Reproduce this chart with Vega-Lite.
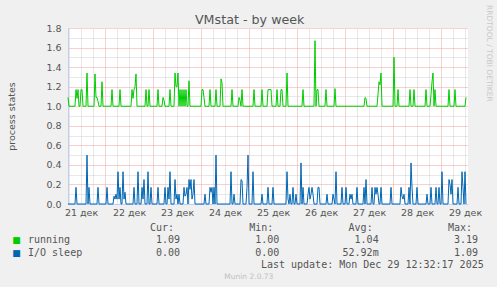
{
  "$schema": "https://vega.github.io/schema/vega-lite/v6.json",
  "background": "#F0F0F0",
  "padding": {"left": 6, "top": 5, "right": 6, "bottom": 7},
  "spacing": 6,
  "datasets": {
    "running": [
      {"t":"2025-12-21T05:30:00Z","v":1.09},{"t":"2025-12-21T06:00:00Z","v":1.0},{"t":"2025-12-21T09:00:00Z","v":1.0},{"t":"2025-12-21T09:30:00Z","v":1.17},{"t":"2025-12-21T10:00:00Z","v":1.08},{"t":"2025-12-21T10:30:00Z","v":1.17},{"t":"2025-12-21T11:00:00Z","v":1.0},{"t":"2025-12-21T11:30:00Z","v":1.0},{"t":"2025-12-21T12:00:00Z","v":1.17},{"t":"2025-12-21T12:30:00Z","v":1.17},{"t":"2025-12-21T13:00:00Z","v":1.0},{"t":"2025-12-21T14:30:00Z","v":1.0},{"t":"2025-12-21T15:00:00Z","v":1.34},{"t":"2025-12-21T15:30:00Z","v":1.0},{"t":"2025-12-21T18:30:00Z","v":1.0},{"t":"2025-12-21T19:00:00Z","v":1.33},{"t":"2025-12-21T19:30:00Z","v":1.09},{"t":"2025-12-21T20:00:00Z","v":1.09},{"t":"2025-12-21T20:30:00Z","v":1.05},{"t":"2025-12-21T21:00:00Z","v":1.0},{"t":"2025-12-21T22:00:00Z","v":1.0},{"t":"2025-12-21T22:30:00Z","v":1.25},{"t":"2025-12-21T23:00:00Z","v":1.0},
      {"t":"2025-12-22T03:00:00Z","v":1.0},{"t":"2025-12-22T03:30:00Z","v":1.17},{"t":"2025-12-22T04:00:00Z","v":1.0},{"t":"2025-12-22T07:00:00Z","v":1.0},{"t":"2025-12-22T07:30:00Z","v":1.17},{"t":"2025-12-22T08:00:00Z","v":1.0},{"t":"2025-12-22T13:00:00Z","v":1.0},{"t":"2025-12-22T13:30:00Z","v":1.17},{"t":"2025-12-22T14:00:00Z","v":1.08},{"t":"2025-12-22T14:30:00Z","v":1.17},{"t":"2025-12-22T15:00:00Z","v":1.2},{"t":"2025-12-22T15:30:00Z","v":1.33},{"t":"2025-12-22T16:00:00Z","v":1.0},{"t":"2025-12-22T20:00:00Z","v":1.0},{"t":"2025-12-22T20:30:00Z","v":1.17},{"t":"2025-12-22T21:00:00Z","v":1.0},{"t":"2025-12-22T21:30:00Z","v":1.0},{"t":"2025-12-22T22:00:00Z","v":1.17},{"t":"2025-12-22T22:30:00Z","v":1.0},
      {"t":"2025-12-23T02:00:00Z","v":1.0},{"t":"2025-12-23T02:30:00Z","v":1.17},{"t":"2025-12-23T03:00:00Z","v":1.0},{"t":"2025-12-23T04:30:00Z","v":1.0},{"t":"2025-12-23T05:00:00Z","v":1.09},{"t":"2025-12-23T05:30:00Z","v":1.06},{"t":"2025-12-23T06:00:00Z","v":1.0},{"t":"2025-12-23T08:00:00Z","v":1.0},{"t":"2025-12-23T08:30:00Z","v":1.17},{"t":"2025-12-23T09:00:00Z","v":1.0},{"t":"2025-12-23T10:30:00Z","v":1.0},{"t":"2025-12-23T11:00:00Z","v":1.34},{"t":"2025-12-23T11:30:00Z","v":1.2},{"t":"2025-12-23T12:00:00Z","v":1.2},{"t":"2025-12-23T12:30:00Z","v":1.34},{"t":"2025-12-23T13:00:00Z","v":1.0},{"t":"2025-12-23T13:30:00Z","v":1.17},{"t":"2025-12-23T14:00:00Z","v":1.0},{"t":"2025-12-23T14:30:00Z","v":1.17},{"t":"2025-12-23T15:00:00Z","v":1.0},{"t":"2025-12-23T15:30:00Z","v":1.17},{"t":"2025-12-23T16:00:00Z","v":1.0},{"t":"2025-12-23T16:30:00Z","v":1.17},{"t":"2025-12-23T17:00:00Z","v":1.0},{"t":"2025-12-23T17:30:00Z","v":1.0},{"t":"2025-12-23T18:00:00Z","v":1.26},{"t":"2025-12-23T18:30:00Z","v":1.0},
      {"t":"2025-12-24T00:00:00Z","v":1.0},{"t":"2025-12-24T00:30:00Z","v":1.17},{"t":"2025-12-24T01:00:00Z","v":1.17},{"t":"2025-12-24T01:30:00Z","v":1.09},{"t":"2025-12-24T02:00:00Z","v":1.0},{"t":"2025-12-24T04:00:00Z","v":1.0},{"t":"2025-12-24T04:30:00Z","v":1.17},{"t":"2025-12-24T05:00:00Z","v":1.0},{"t":"2025-12-24T07:00:00Z","v":1.0},{"t":"2025-12-24T07:30:00Z","v":1.17},{"t":"2025-12-24T08:00:00Z","v":1.0},{"t":"2025-12-24T09:30:00Z","v":1.0},{"t":"2025-12-24T10:00:00Z","v":1.28},{"t":"2025-12-24T10:30:00Z","v":1.24},{"t":"2025-12-24T11:00:00Z","v":1.0},{"t":"2025-12-24T15:00:00Z","v":1.0},{"t":"2025-12-24T15:30:00Z","v":1.17},{"t":"2025-12-24T16:00:00Z","v":1.0},{"t":"2025-12-24T18:30:00Z","v":1.0},{"t":"2025-12-24T19:00:00Z","v":1.09},{"t":"2025-12-24T19:30:00Z","v":1.06},{"t":"2025-12-24T20:00:00Z","v":1.0},{"t":"2025-12-24T20:30:00Z","v":1.17},{"t":"2025-12-24T21:00:00Z","v":1.0},
      {"t":"2025-12-25T02:00:00Z","v":1.0},{"t":"2025-12-25T02:30:00Z","v":1.17},{"t":"2025-12-25T03:00:00Z","v":1.0},{"t":"2025-12-25T06:00:00Z","v":1.0},{"t":"2025-12-25T06:30:00Z","v":1.17},{"t":"2025-12-25T07:00:00Z","v":1.0},{"t":"2025-12-25T09:00:00Z","v":1.0},{"t":"2025-12-25T09:30:00Z","v":1.17},{"t":"2025-12-25T11:00:00Z","v":1.17},{"t":"2025-12-25T11:30:00Z","v":1.0},{"t":"2025-12-25T13:30:00Z","v":1.0},{"t":"2025-12-25T14:00:00Z","v":1.17},{"t":"2025-12-25T14:30:00Z","v":1.0},{"t":"2025-12-25T15:30:00Z","v":1.0},{"t":"2025-12-25T16:00:00Z","v":1.17},{"t":"2025-12-25T16:30:00Z","v":1.17},{"t":"2025-12-25T17:00:00Z","v":1.0},{"t":"2025-12-25T18:30:00Z","v":1.0},{"t":"2025-12-25T19:00:00Z","v":1.34},{"t":"2025-12-25T19:30:00Z","v":1.0},
      {"t":"2025-12-26T02:30:00Z","v":1.0},{"t":"2025-12-26T03:00:00Z","v":1.17},{"t":"2025-12-26T03:30:00Z","v":1.0},{"t":"2025-12-26T08:30:00Z","v":1.0},{"t":"2025-12-26T09:00:00Z","v":1.67},{"t":"2025-12-26T09:30:00Z","v":1.0},{"t":"2025-12-26T10:00:00Z","v":1.17},{"t":"2025-12-26T10:30:00Z","v":1.17},{"t":"2025-12-26T11:00:00Z","v":1.0},{"t":"2025-12-26T14:00:00Z","v":1.0},{"t":"2025-12-26T14:30:00Z","v":1.17},{"t":"2025-12-26T15:00:00Z","v":1.0},{"t":"2025-12-26T18:30:00Z","v":1.0},{"t":"2025-12-26T19:00:00Z","v":1.18},{"t":"2025-12-26T19:30:00Z","v":1.0},
      {"t":"2025-12-27T09:30:00Z","v":1.0},{"t":"2025-12-27T10:00:00Z","v":1.09},{"t":"2025-12-27T10:30:00Z","v":1.08},{"t":"2025-12-27T11:00:00Z","v":1.0},{"t":"2025-12-27T16:00:00Z","v":1.0},{"t":"2025-12-27T16:30:00Z","v":1.12},{"t":"2025-12-27T17:00:00Z","v":1.25},{"t":"2025-12-27T17:30:00Z","v":1.22},{"t":"2025-12-27T18:00:00Z","v":1.34},{"t":"2025-12-27T18:30:00Z","v":1.0},
      {"t":"2025-12-28T00:00:00Z","v":1.0},{"t":"2025-12-28T00:30:00Z","v":1.5},{"t":"2025-12-28T01:00:00Z","v":1.0},{"t":"2025-12-28T02:00:00Z","v":1.0},{"t":"2025-12-28T02:30:00Z","v":1.17},{"t":"2025-12-28T03:00:00Z","v":1.0},{"t":"2025-12-28T08:00:00Z","v":1.0},{"t":"2025-12-28T08:30:00Z","v":1.17},{"t":"2025-12-28T09:00:00Z","v":1.0},{"t":"2025-12-28T10:00:00Z","v":1.0},{"t":"2025-12-28T10:30:00Z","v":1.17},{"t":"2025-12-28T11:00:00Z","v":1.0},{"t":"2025-12-28T16:00:00Z","v":1.0},{"t":"2025-12-28T16:30:00Z","v":1.17},{"t":"2025-12-28T17:00:00Z","v":1.0},{"t":"2025-12-28T18:30:00Z","v":1.0},{"t":"2025-12-28T19:00:00Z","v":1.12},{"t":"2025-12-28T19:30:00Z","v":1.25},{"t":"2025-12-28T20:00:00Z","v":1.34},{"t":"2025-12-28T20:30:00Z","v":1.0},{"t":"2025-12-28T21:00:00Z","v":1.17},{"t":"2025-12-28T21:30:00Z","v":1.0},
      {"t":"2025-12-29T03:30:00Z","v":1.0},{"t":"2025-12-29T04:00:00Z","v":1.17},{"t":"2025-12-29T04:30:00Z","v":1.0},{"t":"2025-12-29T06:30:00Z","v":1.0},{"t":"2025-12-29T07:00:00Z","v":1.17},{"t":"2025-12-29T07:30:00Z","v":1.0},{"t":"2025-12-29T12:00:00Z","v":1.0},{"t":"2025-12-29T12:30:00Z","v":1.09}
    ],
    "io": [
      {"t":"2025-12-21T05:30:00Z","v":0},{"t":"2025-12-21T09:00:00Z","v":0},{"t":"2025-12-21T09:30:00Z","v":0.17},{"t":"2025-12-21T10:00:00Z","v":0},{"t":"2025-12-21T14:30:00Z","v":0},{"t":"2025-12-21T15:00:00Z","v":0.5},{"t":"2025-12-21T15:30:00Z","v":0},{"t":"2025-12-21T16:00:00Z","v":0.17},{"t":"2025-12-21T16:30:00Z","v":0},{"t":"2025-12-21T20:00:00Z","v":0},{"t":"2025-12-21T20:30:00Z","v":0.17},{"t":"2025-12-21T21:00:00Z","v":0},
      {"t":"2025-12-22T00:30:00Z","v":0},{"t":"2025-12-22T01:00:00Z","v":0.17},{"t":"2025-12-22T01:30:00Z","v":0},{"t":"2025-12-22T04:00:00Z","v":0},{"t":"2025-12-22T04:30:00Z","v":0.08},{"t":"2025-12-22T05:00:00Z","v":0.05},{"t":"2025-12-22T05:30:00Z","v":0.1},{"t":"2025-12-22T06:00:00Z","v":0.05},{"t":"2025-12-22T06:30:00Z","v":0.33},{"t":"2025-12-22T07:00:00Z","v":0.05},{"t":"2025-12-22T07:30:00Z","v":0.17},{"t":"2025-12-22T08:00:00Z","v":0},{"t":"2025-12-22T08:30:00Z","v":0},{"t":"2025-12-22T09:00:00Z","v":0.33},{"t":"2025-12-22T09:30:00Z","v":0.05},{"t":"2025-12-22T10:00:00Z","v":0.12},{"t":"2025-12-22T10:30:00Z","v":0},{"t":"2025-12-22T14:00:00Z","v":0},{"t":"2025-12-22T14:30:00Z","v":0.17},{"t":"2025-12-22T15:00:00Z","v":0},{"t":"2025-12-22T16:00:00Z","v":0},{"t":"2025-12-22T16:30:00Z","v":0.33},{"t":"2025-12-22T17:00:00Z","v":0},{"t":"2025-12-22T18:00:00Z","v":0},{"t":"2025-12-22T18:30:00Z","v":0.17},{"t":"2025-12-22T19:00:00Z","v":0.05},{"t":"2025-12-22T19:30:00Z","v":0.25},{"t":"2025-12-22T20:00:00Z","v":0},{"t":"2025-12-22T21:00:00Z","v":0},{"t":"2025-12-22T21:30:00Z","v":0.33},{"t":"2025-12-22T22:00:00Z","v":0},{"t":"2025-12-22T22:30:00Z","v":0},{"t":"2025-12-22T23:00:00Z","v":0.17},{"t":"2025-12-22T23:30:00Z","v":0},
      {"t":"2025-12-23T02:00:00Z","v":0},{"t":"2025-12-23T02:30:00Z","v":0.17},{"t":"2025-12-23T03:00:00Z","v":0},{"t":"2025-12-23T05:30:00Z","v":0},{"t":"2025-12-23T06:00:00Z","v":0.17},{"t":"2025-12-23T06:30:00Z","v":0},{"t":"2025-12-23T07:00:00Z","v":0},{"t":"2025-12-23T07:30:00Z","v":0.17},{"t":"2025-12-23T08:00:00Z","v":0.05},{"t":"2025-12-23T08:30:00Z","v":0.33},{"t":"2025-12-23T09:00:00Z","v":0},{"t":"2025-12-23T10:30:00Z","v":0},{"t":"2025-12-23T11:00:00Z","v":0.25},{"t":"2025-12-23T11:30:00Z","v":0.05},{"t":"2025-12-23T12:00:00Z","v":0.1},{"t":"2025-12-23T12:30:00Z","v":0},{"t":"2025-12-23T13:00:00Z","v":0.1},{"t":"2025-12-23T13:30:00Z","v":0},{"t":"2025-12-23T15:00:00Z","v":0},{"t":"2025-12-23T15:30:00Z","v":0.17},{"t":"2025-12-23T16:00:00Z","v":0.08},{"t":"2025-12-23T16:30:00Z","v":0.1},{"t":"2025-12-23T17:00:00Z","v":0.17},{"t":"2025-12-23T17:30:00Z","v":0},{"t":"2025-12-23T18:00:00Z","v":0.25},{"t":"2025-12-23T18:30:00Z","v":0.15},{"t":"2025-12-23T19:00:00Z","v":0.25},{"t":"2025-12-23T19:30:00Z","v":0.05},{"t":"2025-12-23T20:00:00Z","v":0.1},{"t":"2025-12-23T20:30:00Z","v":0.25},{"t":"2025-12-23T21:00:00Z","v":0},
      {"t":"2025-12-24T01:30:00Z","v":0},{"t":"2025-12-24T02:00:00Z","v":0.1},{"t":"2025-12-24T02:30:00Z","v":0},{"t":"2025-12-24T04:00:00Z","v":0},{"t":"2025-12-24T04:30:00Z","v":0.17},{"t":"2025-12-24T05:00:00Z","v":0.12},{"t":"2025-12-24T05:30:00Z","v":0.17},{"t":"2025-12-24T06:00:00Z","v":0},{"t":"2025-12-24T06:30:00Z","v":0.17},{"t":"2025-12-24T07:00:00Z","v":0},{"t":"2025-12-24T07:30:00Z","v":0.5},{"t":"2025-12-24T08:00:00Z","v":0},{"t":"2025-12-24T14:30:00Z","v":0},{"t":"2025-12-24T15:00:00Z","v":0.33},{"t":"2025-12-24T15:30:00Z","v":0},{"t":"2025-12-24T16:00:00Z","v":0},{"t":"2025-12-24T16:30:00Z","v":0.1},{"t":"2025-12-24T17:00:00Z","v":0},{"t":"2025-12-24T19:30:00Z","v":0},{"t":"2025-12-24T20:00:00Z","v":0.25},{"t":"2025-12-24T20:30:00Z","v":0.24},{"t":"2025-12-24T21:00:00Z","v":0},{"t":"2025-12-24T22:30:00Z","v":0},{"t":"2025-12-24T23:00:00Z","v":0.17},{"t":"2025-12-24T23:30:00Z","v":0.5},
      {"t":"2025-12-25T00:00:00Z","v":0},{"t":"2025-12-25T01:30:00Z","v":0},{"t":"2025-12-25T02:00:00Z","v":0.33},{"t":"2025-12-25T02:30:00Z","v":0},{"t":"2025-12-25T06:00:00Z","v":0},{"t":"2025-12-25T06:30:00Z","v":0.1},{"t":"2025-12-25T07:00:00Z","v":0},{"t":"2025-12-25T09:00:00Z","v":0},{"t":"2025-12-25T09:30:00Z","v":0.17},{"t":"2025-12-25T10:00:00Z","v":0},{"t":"2025-12-25T11:30:00Z","v":0},{"t":"2025-12-25T12:00:00Z","v":0.17},{"t":"2025-12-25T12:30:00Z","v":0},{"t":"2025-12-25T18:30:00Z","v":0},{"t":"2025-12-25T19:00:00Z","v":0.33},{"t":"2025-12-25T19:30:00Z","v":0.05},{"t":"2025-12-25T20:00:00Z","v":0},{"t":"2025-12-25T20:30:00Z","v":0.1},{"t":"2025-12-25T21:00:00Z","v":0},{"t":"2025-12-25T21:30:00Z","v":0},{"t":"2025-12-25T22:00:00Z","v":0.17},{"t":"2025-12-25T22:30:00Z","v":0},{"t":"2025-12-25T23:00:00Z","v":0},{"t":"2025-12-25T23:30:00Z","v":0.1},
      {"t":"2025-12-26T00:00:00Z","v":0},{"t":"2025-12-26T01:30:00Z","v":0},{"t":"2025-12-26T02:00:00Z","v":0.42},{"t":"2025-12-26T02:30:00Z","v":0},{"t":"2025-12-26T03:00:00Z","v":0.17},{"t":"2025-12-26T03:30:00Z","v":0},{"t":"2025-12-26T05:00:00Z","v":0},{"t":"2025-12-26T05:30:00Z","v":0.1},{"t":"2025-12-26T06:00:00Z","v":0.17},{"t":"2025-12-26T06:30:00Z","v":0.05},{"t":"2025-12-26T07:00:00Z","v":0.1},{"t":"2025-12-26T07:30:00Z","v":0.17},{"t":"2025-12-26T08:00:00Z","v":0.1},{"t":"2025-12-26T08:30:00Z","v":0},{"t":"2025-12-26T10:00:00Z","v":0},{"t":"2025-12-26T10:30:00Z","v":0.17},{"t":"2025-12-26T11:00:00Z","v":0.17},{"t":"2025-12-26T11:30:00Z","v":0},{"t":"2025-12-26T14:30:00Z","v":0},{"t":"2025-12-26T15:00:00Z","v":0.1},{"t":"2025-12-26T15:30:00Z","v":0},{"t":"2025-12-26T17:30:00Z","v":0},{"t":"2025-12-26T18:00:00Z","v":0.1},{"t":"2025-12-26T18:30:00Z","v":0.05},{"t":"2025-12-26T19:00:00Z","v":0},{"t":"2025-12-26T19:30:00Z","v":0.33},{"t":"2025-12-26T20:00:00Z","v":0},{"t":"2025-12-26T22:00:00Z","v":0},{"t":"2025-12-26T22:30:00Z","v":0.17},{"t":"2025-12-26T23:00:00Z","v":0},
      {"t":"2025-12-27T00:00:00Z","v":0},{"t":"2025-12-27T00:30:00Z","v":0.17},{"t":"2025-12-27T01:00:00Z","v":0},{"t":"2025-12-27T02:00:00Z","v":0},{"t":"2025-12-27T02:30:00Z","v":0.1},{"t":"2025-12-27T03:00:00Z","v":0.05},{"t":"2025-12-27T03:30:00Z","v":0.1},{"t":"2025-12-27T04:00:00Z","v":0},{"t":"2025-12-27T05:30:00Z","v":0},{"t":"2025-12-27T06:00:00Z","v":0.17},{"t":"2025-12-27T06:30:00Z","v":0},{"t":"2025-12-27T09:00:00Z","v":0},{"t":"2025-12-27T09:30:00Z","v":0.17},{"t":"2025-12-27T10:00:00Z","v":0},{"t":"2025-12-27T10:30:00Z","v":0.25},{"t":"2025-12-27T11:00:00Z","v":0},{"t":"2025-12-27T13:00:00Z","v":0},{"t":"2025-12-27T13:30:00Z","v":0.17},{"t":"2025-12-27T14:00:00Z","v":0},{"t":"2025-12-27T14:30:00Z","v":0},{"t":"2025-12-27T15:00:00Z","v":0.17},{"t":"2025-12-27T15:30:00Z","v":0.1},{"t":"2025-12-27T16:00:00Z","v":0.17},{"t":"2025-12-27T16:30:00Z","v":0.1},{"t":"2025-12-27T17:00:00Z","v":0},{"t":"2025-12-27T17:30:00Z","v":0},{"t":"2025-12-27T18:00:00Z","v":0.17},{"t":"2025-12-27T18:30:00Z","v":0},{"t":"2025-12-27T22:30:00Z","v":0},{"t":"2025-12-27T23:00:00Z","v":0.17},{"t":"2025-12-27T23:30:00Z","v":0},
      {"t":"2025-12-28T03:30:00Z","v":0},{"t":"2025-12-28T04:00:00Z","v":0.17},{"t":"2025-12-28T04:30:00Z","v":0.08},{"t":"2025-12-28T05:00:00Z","v":0.05},{"t":"2025-12-28T05:30:00Z","v":0.1},{"t":"2025-12-28T06:00:00Z","v":0},{"t":"2025-12-28T07:30:00Z","v":0},{"t":"2025-12-28T08:00:00Z","v":0.17},{"t":"2025-12-28T08:30:00Z","v":0},{"t":"2025-12-28T09:00:00Z","v":0.42},{"t":"2025-12-28T09:30:00Z","v":0.17},{"t":"2025-12-28T10:00:00Z","v":0},{"t":"2025-12-28T11:30:00Z","v":0},{"t":"2025-12-28T12:00:00Z","v":0.17},{"t":"2025-12-28T12:30:00Z","v":0},{"t":"2025-12-28T16:30:00Z","v":0},{"t":"2025-12-28T17:00:00Z","v":0.1},{"t":"2025-12-28T17:30:00Z","v":0},{"t":"2025-12-28T18:30:00Z","v":0},{"t":"2025-12-28T19:00:00Z","v":0.17},{"t":"2025-12-28T19:30:00Z","v":0},{"t":"2025-12-28T21:00:00Z","v":0},{"t":"2025-12-28T21:30:00Z","v":0.17},{"t":"2025-12-28T22:00:00Z","v":0},{"t":"2025-12-28T22:30:00Z","v":0},{"t":"2025-12-28T23:00:00Z","v":0.17},{"t":"2025-12-28T23:30:00Z","v":0},
      {"t":"2025-12-29T00:00:00Z","v":0},{"t":"2025-12-29T00:30:00Z","v":0.33},{"t":"2025-12-29T01:00:00Z","v":0},{"t":"2025-12-29T03:30:00Z","v":0},{"t":"2025-12-29T04:00:00Z","v":0.25},{"t":"2025-12-29T04:30:00Z","v":0.2},{"t":"2025-12-29T05:00:00Z","v":0.1},{"t":"2025-12-29T05:30:00Z","v":0.25},{"t":"2025-12-29T06:00:00Z","v":0},{"t":"2025-12-29T08:00:00Z","v":0},{"t":"2025-12-29T08:30:00Z","v":0.17},{"t":"2025-12-29T09:00:00Z","v":0},{"t":"2025-12-29T10:00:00Z","v":0},{"t":"2025-12-29T10:30:00Z","v":0.33},{"t":"2025-12-29T11:00:00Z","v":0.17},{"t":"2025-12-29T11:30:00Z","v":0},{"t":"2025-12-29T12:00:00Z","v":0.33},{"t":"2025-12-29T12:30:00Z","v":0}
    ],
    "stats": [
      {"series":"running","stat":"Cur","value":"1.09"},
      {"series":"running","stat":"Min","value":"1.00"},
      {"series":"running","stat":"Avg","value":"1.04"},
      {"series":"running","stat":"Max","value":"3.19"},
      {"series":"I/O sleep","stat":"Cur","value":"0.00"},
      {"series":"I/O sleep","stat":"Min","value":"0.00"},
      {"series":"I/O sleep","stat":"Avg","value":"52.92m"},
      {"series":"I/O sleep","stat":"Max","value":"1.09"}
    ],
    "headers": [
      {"stat":"Cur","label":"Cur:"},
      {"stat":"Min","label":"Min:"},
      {"stat":"Avg","label":"Avg:"},
      {"stat":"Max","label":"Max:"}
    ],
    "serieslist": [
      {"series":"running"},
      {"series":"I/O sleep"}
    ],
    "footer": [{"row":"update","text":"Last update: Mon Dec 29 12:32:17 2025"}],
    "credit": [{"row":"credit","text":"Munin 2.0.73"}],
    "watermark": [{"text":"RRDTOOL / TOBI OETIKER"}]
  },
  "vconcat": [
    {
      "width": 400,
      "height": 176,
      "view": {"fill": "#FFFFFF", "stroke": null},
      "title": {"text": "VMstat - by week", "anchor": "middle", "frame": "bounds", "offset": -19, "dy": 12.5, "baseline": "alphabetic", "fontSize": 12.7, "font": "DejaVu Sans", "fontWeight": "normal", "color": "#555555"},
      "resolve": {"axis": {"x": "independent", "y": "independent"}},
      "layer": [
        {
          "data": {"name": "running"},
          "mark": {"type": "line", "strokeWidth": 1},
          "encoding": {
            "x": {"field": "t", "type": "temporal",
              "scale": {"type": "utc", "domain": [1766295000000, 1767015000000]},
              "axis": {"orient": "bottom", "title": null, "grid": false,
                "values": [1766318400000, 1766404800000, 1766491200000, 1766577600000, 1766664000000, 1766750400000, 1766836800000, 1766923200000, 1767009600000],
                "format": "%d дек", "labelOverlap": false, "labelFlush": false, "labelFontSize": 9.5, "labelPadding": 3}},
            "y": {"field": "v", "type": "quantitative", "scale": {"domain": [0, 1.8], "nice": false},
              "axis": {"orient": "left", "title": "process states", "values": [0, 0.2, 0.4, 0.6, 0.8, 1.0, 1.2, 1.4, 1.6, 1.8], "format": ".1f", "labelOverlap": false, "labelFontSize": 9.5, "labelPadding": 7, "titleFontSize": 9.5, "titlePadding": 29, "grid": true, "gridDash": [1, 1], "gridColor": "#F0A0A0"}},
            "color": {"datum": "running", "scale": {"domain": ["running", "I/O sleep"], "range": ["#00CC00", "#0066B3"]}, "legend": null}
          }
        },
        {
          "data": {"name": "io"},
          "mark": {"type": "line", "strokeWidth": 1},
          "encoding": {
            "x": {"field": "t", "type": "temporal", "scale": {"type": "utc", "domain": [1766295000000, 1767015000000]},
              "axis": {"orient": "top", "title": null, "labels": false, "domain": false, "ticks": false, "grid": true, "gridDash": [1, 1], "gridColor": "#D0D0D0",
                "values": [1766296800000, 1766318400000, 1766340000000, 1766383200000, 1766404800000, 1766426400000, 1766469600000, 1766491200000, 1766512800000, 1766556000000, 1766577600000, 1766599200000, 1766642400000, 1766664000000, 1766685600000, 1766728800000, 1766750400000, 1766772000000, 1766815200000, 1766836800000, 1766858400000, 1766901600000, 1766923200000, 1766944800000, 1766988000000, 1767009600000]}},
            "y": {"field": "v", "type": "quantitative", "scale": {"domain": [0, 1.8], "nice": false},
              "axis": {"orient": "left", "title": null, "labels": false, "domain": false, "ticks": false, "grid": true, "gridDash": [1, 1], "gridColor": "#D0D0D0", "values": [0.1, 0.3, 0.5, 0.7, 0.9, 1.1, 1.3, 1.5, 1.7]}},
            "color": {"datum": "I/O sleep", "scale": {"domain": ["running", "I/O sleep"], "range": ["#00CC00", "#0066B3"]}, "legend": null}
          }
        },
        {
          "data": {"name": "watermark"},
          "mark": {"type": "text", "angle": 90, "align": "left", "baseline": "middle", "font": "DejaVu Sans", "fontSize": 7.5, "color": "#C8C8C8"},
          "encoding": {
            "x": {"datum": 1767051900000, "type": "temporal", "scale": {"type": "utc", "domain": [1766295000000, 1767015000000]},
              "axis": {"orient": "top", "title": null, "labels": false, "domain": false, "ticks": false, "grid": true, "gridDash": [1, 1], "gridColor": "#F0A0A0",
                "values": [1766361600000, 1766448000000, 1766534400000, 1766620800000, 1766707200000, 1766793600000, 1766880000000, 1766966400000]}},
            "y": {"datum": 2.035, "type": "quantitative", "scale": {"domain": [0, 1.8], "nice": false}, "axis": null},
            "text": {"field": "text"}
          }
        }
      ]
    },
    {
      "width": 400,
      "height": 49,
      "layer": [
        {
          "data": {"name": "stats"},
          "mark": {"type": "text", "align": "right", "baseline": "middle", "font": "DejaVu Sans Mono", "fontSize": 10, "color": "#555555"},
          "encoding": {
            "x": {"field": "stat", "type": "nominal", "scale": {"domain": ["Cur", "Min", "Avg", "Max"], "range": [112, 410], "padding": 0}, "axis": null},
            "y": {"field": "series", "type": "nominal", "scale": {"domain": ["header", "running", "I/O sleep", "update", "credit"], "padding": 0}, "axis": null},
            "text": {"field": "value"}
          }
        },
        {
          "data": {"name": "headers"},
          "mark": {"type": "text", "align": "right", "baseline": "middle", "dx": -6, "font": "DejaVu Sans Mono", "fontSize": 10, "color": "#555555"},
          "encoding": {
            "x": {"field": "stat", "type": "nominal", "scale": {"domain": ["Cur", "Min", "Avg", "Max"], "range": [112, 410], "padding": 0}, "axis": null},
            "y": {"datum": "header", "type": "nominal", "scale": {"domain": ["header", "running", "I/O sleep", "update", "credit"], "padding": 0}, "axis": null},
            "text": {"field": "label"}
          }
        },
        {
          "data": {"name": "serieslist"},
          "mark": {"type": "text", "align": "left", "baseline": "middle", "dx": -152, "font": "DejaVu Sans Mono", "fontSize": 10, "color": "#555555"},
          "encoding": {
            "x": {"datum": "Cur", "type": "nominal", "scale": {"domain": ["Cur", "Min", "Avg", "Max"], "range": [112, 410], "padding": 0}, "axis": null},
            "y": {"field": "series", "type": "nominal", "scale": {"domain": ["header", "running", "I/O sleep", "update", "credit"], "padding": 0}, "axis": null},
            "text": {"field": "series"}
          }
        },
        {
          "data": {"name": "serieslist"},
          "mark": {"type": "text", "align": "center", "baseline": "middle", "dx": -163.5, "font": "DejaVu Sans", "fontSize": 9},
          "encoding": {
            "x": {"datum": "Cur", "type": "nominal", "scale": {"domain": ["Cur", "Min", "Avg", "Max"], "range": [112, 410], "padding": 0}, "axis": null},
            "y": {"field": "series", "type": "nominal", "scale": {"domain": ["header", "running", "I/O sleep", "update", "credit"], "padding": 0}, "axis": null},
            "text": {"value": "■"},
            "color": {"field": "series", "type": "nominal", "scale": {"domain": ["running", "I/O sleep"], "range": ["#00CC00", "#0066B3"]}, "legend": null}
          }
        },
        {
          "data": {"name": "footer"},
          "mark": {"type": "text", "align": "right", "baseline": "middle", "dx": 5.7, "font": "DejaVu Sans Mono", "fontSize": 10, "color": "#555555"},
          "encoding": {
            "x": {"datum": "Max", "type": "nominal", "scale": {"domain": ["Cur", "Min", "Avg", "Max"], "range": [112, 410], "padding": 0}, "axis": null},
            "y": {"field": "row", "type": "nominal", "scale": {"domain": ["header", "running", "I/O sleep", "update", "credit"], "padding": 0}, "axis": null},
            "text": {"field": "text"}
          }
        },
        {
          "data": {"name": "credit"},
          "mark": {"type": "text", "align": "center", "baseline": "middle", "dx": -30.5, "font": "DejaVu Sans", "fontSize": 7.5, "color": "#C0C0C0"},
          "encoding": {
            "x": {"datum": "Min", "type": "nominal", "scale": {"domain": ["Cur", "Min", "Avg", "Max"], "range": [112, 410], "padding": 0}, "axis": null},
            "y": {"field": "row", "type": "nominal", "scale": {"domain": ["header", "running", "I/O sleep", "update", "credit"], "padding": 0}, "axis": null},
            "text": {"field": "text"}
          }
        }
      ]
    }
  ],
  "config": {
    "font": "DejaVu Sans",
    "view": {"stroke": null},
    "axis": {"labelFont": "DejaVu Sans", "titleFont": "DejaVu Sans", "labelColor": "#555555", "titleColor": "#555555", "titleFontWeight": "normal", "ticks": false, "domainColor": "#C4CCF4"}
  }
}
